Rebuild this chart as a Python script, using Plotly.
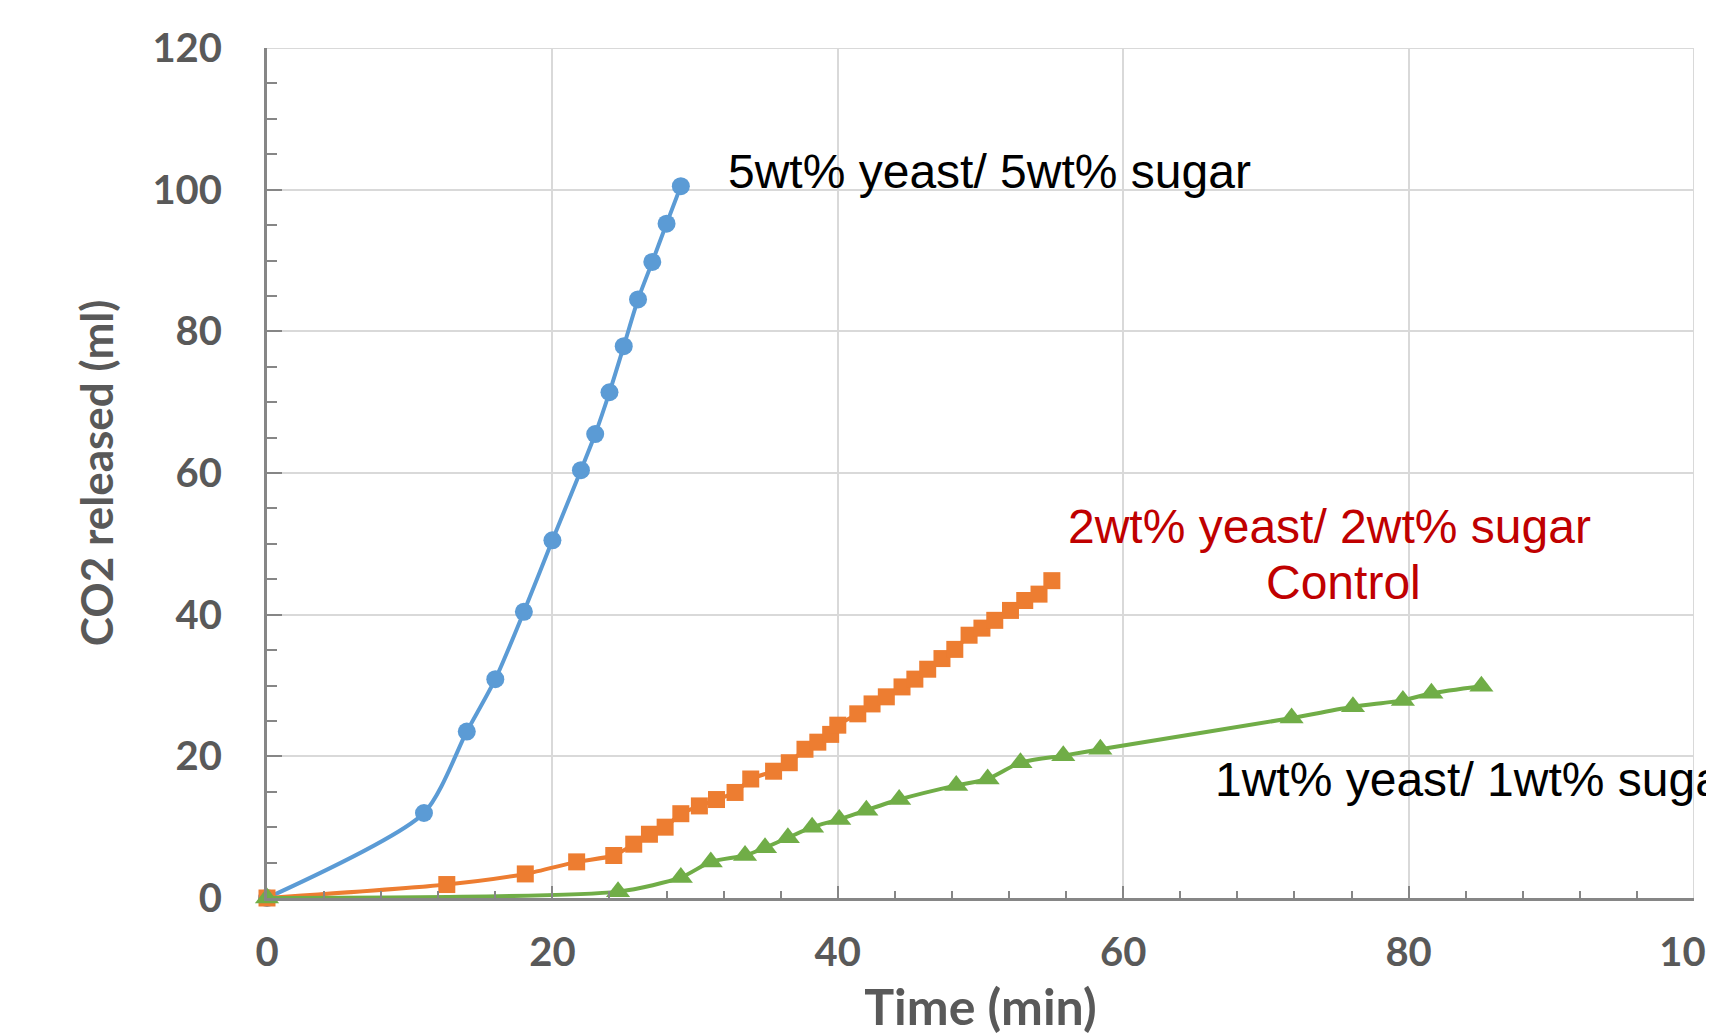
import plotly.graph_objects as go

# ---- data ----
x_5 = [0, 11, 14, 16, 18, 20, 22, 23, 24, 25, 26, 27, 28, 29]
y_5 = [0, 12, 23.5, 30.9, 40.4, 50.5, 60.4, 65.5, 71.4, 77.9, 84.5, 89.8, 95.2, 100.5]

x_2 = [0, 12.6, 18.1, 21.7, 24.3, 25.7, 26.8, 27.9, 29.0, 30.3, 31.5, 32.8, 33.9, 35.5,
       36.6, 37.7, 38.6, 39.5, 40.0, 41.4, 42.4, 43.4, 44.5, 45.4, 46.3, 47.3, 48.2,
       49.2, 50.1, 51.0, 52.1, 53.1, 54.1, 55.0]
y_2 = [0, 1.9, 3.4, 5.1, 6.0, 7.6, 9.0, 10.0, 11.9, 13.0, 13.9, 14.9, 16.8, 17.9,
       19.1, 21.0, 22.0, 23.1, 24.4, 26.0, 27.4, 28.4, 29.8, 30.9, 32.3, 33.8, 35.1,
       37.1, 38.1, 39.2, 40.6, 42.0, 42.9, 44.8]

x_1 = [0, 24.6, 29.0, 31.1, 33.5, 34.9, 36.5, 38.2, 40.1, 42.0, 44.3, 48.3, 50.5,
       52.8, 55.8, 58.4, 71.8, 76.1, 79.6, 81.6, 85.1]
y_1 = [0, 0.9, 2.9, 5.1, 6.0, 7.1, 8.5, 10.0, 11.1, 12.4, 13.9, 15.9, 16.8,
       19.1, 20.1, 21.0, 25.4, 27.0, 27.9, 28.9, 29.9]

x_ticks = [0, 20, 40, 60, 80, 100]
y_ticks = [0, 20, 40, 60, 80, 100, 120]

BLUE = "#5B9BD5"
ORANGE = "#ED7D31"
GREEN = "#70AD47"
AXIS = "#868686"
GRID = "#D9D9D9"
LABEL = "#595959"

fig = go.Figure()
fig.add_trace(go.Scatter(x=x_5, y=y_5, mode="lines+markers",
                         line=dict(color=BLUE, width=4, shape="spline", smoothing=0.7),
                         marker=dict(symbol="circle", size=18, color=BLUE),
                         cliponaxis=False, showlegend=False))
fig.add_trace(go.Scatter(x=x_2, y=y_2, mode="lines+markers",
                         line=dict(color=ORANGE, width=4, shape="spline", smoothing=0.7),
                         marker=dict(symbol="square", size=17, color=ORANGE),
                         cliponaxis=False, showlegend=False))
fig.add_trace(go.Scatter(x=x_1, y=y_1, mode="lines+markers",
                         line=dict(color=GREEN, width=4, shape="spline", smoothing=0.7),
                         marker=dict(symbol="triangle-up", size=21, color=GREEN),
                         cliponaxis=False, showlegend=False))

tickfont = dict(family="Lato", size=40, color=LABEL, weight="bold")

fig.update_xaxes(range=[x_ticks[0], x_ticks[-1]], tickvals=x_ticks,
                 ticktext=[str(v) for v in x_ticks], ticklabeloverflow="allow",
                 automargin=False,
                 showgrid=True, gridcolor=GRID, gridwidth=2,
                 showline=True, linecolor=AXIS, linewidth=3, zeroline=False,
                 ticks="inside", ticklen=12, tickwidth=2, tickcolor=AXIS,
                 minor=dict(dtick=4, tick0=0, ticks="inside", ticklen=7, tickwidth=2,
                            tickcolor=AXIS, showgrid=False),
                 tickfont=tickfont, ticklabelstandoff=17,
                 title=dict(text="Time (min)",
                            font=dict(family="Lato", size=50, color=LABEL, weight="bold"),
                            standoff=38))
fig.update_yaxes(range=[y_ticks[0], y_ticks[-1]], tickvals=y_ticks,
                 ticktext=[str(v) for v in y_ticks], ticklabeloverflow="allow",
                 automargin=False,
                 showgrid=True, gridcolor=GRID, gridwidth=2,
                 showline=True, linecolor=AXIS, linewidth=3, zeroline=False,
                 ticks="inside", ticklen=15, tickwidth=2, tickcolor=AXIS,
                 minor=dict(dtick=5, tick0=0, ticks="inside", ticklen=10, tickwidth=2,
                            tickcolor=AXIS, showgrid=False),
                 tickfont=tickfont, ticklabelstandoff=34,
                 title=dict(text="CO2 released (ml)",
                            font=dict(family="Lato", size=44, color=LABEL, weight="bold"),
                            standoff=25))

# gridlines at the far edges of the plot
fig.add_shape(type="line", xref="x", yref="y", x0=x_ticks[-1], x1=x_ticks[-1],
              y0=y_ticks[0], y1=y_ticks[-1], line=dict(color=GRID, width=2), layer="below")
fig.add_shape(type="line", xref="x", yref="y", x0=x_ticks[0], x1=x_ticks[-1],
              y0=y_ticks[-1], y1=y_ticks[-1], line=dict(color=GRID, width=2), layer="below")

annfont = dict(family="Liberation Sans, Arial", size=48, color="black")
redfont = dict(family="Liberation Sans, Arial", size=48, color="#C00000")
fig.add_annotation(x=32.2, y=102.5, xref="x", yref="y", text="5wt% yeast/ 5wt% sugar",
                   showarrow=False, xanchor="left", yanchor="middle", font=annfont)
fig.add_annotation(x=74.45, y=52.5, xref="x", yref="y", text="2wt% yeast/ 2wt% sugar",
                   showarrow=False, xanchor="center", yanchor="middle", font=redfont)
fig.add_annotation(x=75.45, y=44.5, xref="x", yref="y", text="Control",
                   showarrow=False, xanchor="center", yanchor="middle", font=redfont)
fig.add_annotation(x=66.3, y=16.7, xref="x", yref="y", text="1wt% yeast/ 1wt% sugar",
                   showarrow=False, xanchor="left", yanchor="middle", font=annfont)

# page body has an 8px margin: shrink the figure by that much so it fits the window
fig.update_layout(width=1706, height=1028,
                  margin=dict(l=259, r=20, t=40, b=138, autoexpand=False),
                  plot_bgcolor="white", paper_bgcolor="white")

fig.write_html("out.html")
